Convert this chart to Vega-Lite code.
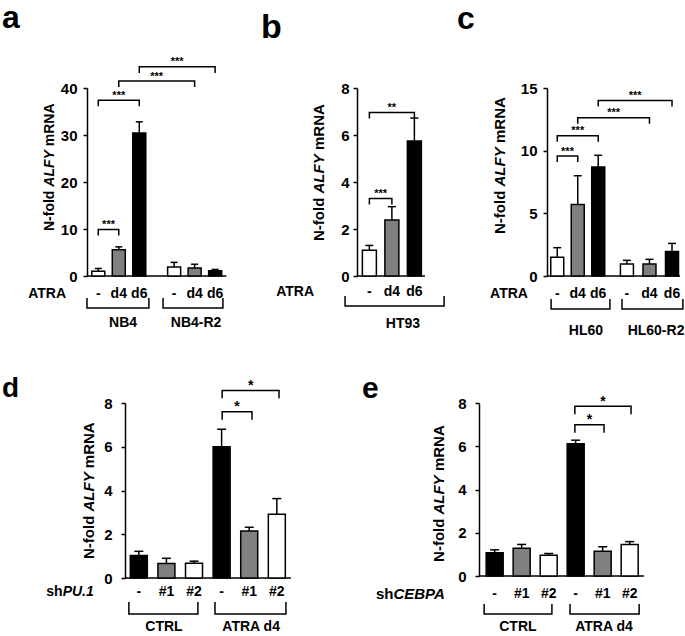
{
"$schema": "https://vega.github.io/schema/vega-lite/v6.json",
"padding": {"left": 1, "top": 1, "right": 0, "bottom": 0},
"config": {
  "view": {"stroke": null},
  "font": "Liberation Sans",
  "mark": {"color": "black"},
  "scale": {"continuousPadding": 0},
  "axis": {"domainColor": "black", "domainWidth": 1.5, "tickColor": "black", "tickWidth": 1.5, "tickSize": 4, "labelFont": "Liberation Sans", "labelFontSize": 15, "labelFontWeight": "bold", "labelColor": "black", "grid": false}
},
"datasets": {
"a": [
{"k":"base","x":0,"x2":6.8,"y":0},
{"k":"bar","x":0.55,"y":1.0,"hi":1.6,"t":"-"},
{"k":"bar","x":1.55,"y":5.6,"hi":6.2,"t":"d4"},
{"k":"bar","x":2.55,"y":30.4,"hi":32.8,"t":"d6"},
{"k":"bar","x":4.25,"y":1.9,"hi":2.9,"t":"-"},
{"k":"bar","x":5.25,"y":1.7,"hi":2.5,"t":"d4"},
{"k":"bar","x":6.25,"y":1.1,"hi":1.4,"t":"d6"},
{"k":"ln","id":"s1","o":1,"x":0.55,"y":8.6},{"k":"ln","id":"s1","o":2,"x":0.55,"y":9.9},{"k":"ln","id":"s1","o":3,"x":1.55,"y":9.9},{"k":"ln","id":"s1","o":4,"x":1.55,"y":8.6},
{"k":"ln","id":"s2","o":1,"x":0.55,"y":36.1},{"k":"ln","id":"s2","o":2,"x":0.55,"y":37.4},{"k":"ln","id":"s2","o":3,"x":2.55,"y":37.4},{"k":"ln","id":"s2","o":4,"x":2.55,"y":36.1},
{"k":"ln","id":"s3","o":1,"x":1.55,"y":40.2},{"k":"ln","id":"s3","o":2,"x":1.55,"y":41.5},{"k":"ln","id":"s3","o":3,"x":5.25,"y":41.5},{"k":"ln","id":"s3","o":4,"x":5.25,"y":40.2},
{"k":"ln","id":"s4","o":1,"x":2.55,"y":43.2},{"k":"ln","id":"s4","o":2,"x":2.55,"y":44.5},{"k":"ln","id":"s4","o":3,"x":6.25,"y":44.5},{"k":"ln","id":"s4","o":4,"x":6.25,"y":43.2},
{"k":"ln","id":"g1","o":1,"x":0,"y":-4.68},{"k":"ln","id":"g1","o":2,"x":0,"y":-6.81},{"k":"ln","id":"g1","o":3,"x":3.02,"y":-6.81},{"k":"ln","id":"g1","o":4,"x":3.02,"y":-4.68},
{"k":"ln","id":"g2","o":1,"x":3.71,"y":-4.68},{"k":"ln","id":"g2","o":2,"x":3.71,"y":-6.81},{"k":"ln","id":"g2","o":3,"x":6.63,"y":-6.81},{"k":"ln","id":"g2","o":4,"x":6.63,"y":-4.68},
{"k":"star","x":1.05,"y":10.2,"s":"***"},
{"k":"star","x":1.55,"y":37.7,"s":"***"},
{"k":"star","x":3.4,"y":41.8,"s":"***"},
{"k":"star","x":4.4,"y":44.8,"s":"***"},
{"k":"lab","x":0.55,"y":-3.75,"s":"-"},
{"k":"lab","x":1.55,"y":-3.75,"s":"d4"},
{"k":"lab","x":2.55,"y":-3.75,"s":"d6"},
{"k":"lab","x":4.25,"y":-3.75,"s":"-"},
{"k":"lab","x":5.25,"y":-3.75,"s":"d4"},
{"k":"lab","x":6.25,"y":-3.75,"s":"d6"},
{"k":"lab","x":1.76,"y":-10,"s":"NB4"},
{"k":"lab","x":5.32,"y":-10,"s":"NB4-R2"},
{"k":"rlab","x":-1.02,"y":-3.75,"s":"ATRA"},
{"k":"letter","x":-4.15,"y":52.77,"s":"a"},
{"k":"t1","x":-1.61,"y":9.57,"s":"N-fold"},
{"k":"t2","x":-1.61,"y":19.0,"s":"ALFY"},
{"k":"t1","x":-1.61,"y":27.62,"s":"mRNA"}
],
"b": [
{"k":"base","x":0,"x2":3.02,"y":0},
{"k":"bar","x":0.55,"y":1.1,"hi":1.3,"t":"-"},
{"k":"bar","x":1.55,"y":2.38,"hi":2.95,"t":"d4"},
{"k":"bar","x":2.55,"y":5.74,"hi":6.72,"t":"d6"},
{"k":"ln","id":"s1","o":1,"x":0.55,"y":3.04},{"k":"ln","id":"s1","o":2,"x":0.55,"y":3.3},{"k":"ln","id":"s1","o":3,"x":1.55,"y":3.3},{"k":"ln","id":"s1","o":4,"x":1.55,"y":3.04},
{"k":"ln","id":"s2","o":1,"x":0.55,"y":6.7},{"k":"ln","id":"s2","o":2,"x":0.55,"y":6.96},{"k":"ln","id":"s2","o":3,"x":2.55,"y":6.96},{"k":"ln","id":"s2","o":4,"x":2.55,"y":6.7},
{"k":"ln","id":"g1","o":1,"x":-0.53,"y":-0.85},{"k":"ln","id":"g1","o":2,"x":-0.53,"y":-1.28},{"k":"ln","id":"g1","o":3,"x":3.87,"y":-1.28},{"k":"ln","id":"g1","o":4,"x":3.87,"y":-0.85},
{"k":"star","x":1.05,"y":3.36,"s":"***"},
{"k":"star","x":1.55,"y":7.02,"s":"**"},
{"k":"lab","x":0.55,"y":-0.68,"s":"-"},
{"k":"lab","x":1.55,"y":-0.68,"s":"d4"},
{"k":"lab","x":2.55,"y":-0.68,"s":"d6"},
{"k":"lab","x":2.04,"y":-2.04,"s":"HT93"},
{"k":"rlab","x":-1.91,"y":-0.68,"s":"ATRA"},
{"k":"letter","x":-4.27,"y":10.13,"s":"b"},
{"k":"t1","x":-1.47,"y":1.49,"s":"N-fold"},
{"k":"t2","x":-1.47,"y":3.51,"s":"ALFY"},
{"k":"t1","x":-1.47,"y":5.36,"s":"mRNA"}
],
"c": [
{"k":"base","x":0,"x2":6.49,"y":0},
{"k":"bar","x":0.5,"y":1.5,"hi":2.26,"t":"-"},
{"k":"bar","x":1.5,"y":5.7,"hi":8.0,"t":"d4"},
{"k":"bar","x":2.5,"y":8.7,"hi":9.63,"t":"d6"},
{"k":"bar","x":3.9,"y":0.95,"hi":1.25,"t":"-"},
{"k":"bar","x":5.0,"y":0.95,"hi":1.33,"t":"d4"},
{"k":"bar","x":6.1,"y":1.95,"hi":2.6,"t":"d6"},
{"k":"ln","id":"s1","o":1,"x":0.5,"y":9.1},{"k":"ln","id":"s1","o":2,"x":0.5,"y":9.57},{"k":"ln","id":"s1","o":3,"x":1.5,"y":9.57},{"k":"ln","id":"s1","o":4,"x":1.5,"y":9.1},
{"k":"ln","id":"s2","o":1,"x":0.5,"y":10.72},{"k":"ln","id":"s2","o":2,"x":0.5,"y":11.2},{"k":"ln","id":"s2","o":3,"x":2.5,"y":11.2},{"k":"ln","id":"s2","o":4,"x":2.5,"y":10.72},
{"k":"ln","id":"s3","o":1,"x":1.5,"y":12.15},{"k":"ln","id":"s3","o":2,"x":1.5,"y":12.63},{"k":"ln","id":"s3","o":3,"x":5.0,"y":12.63},{"k":"ln","id":"s3","o":4,"x":5.0,"y":12.15},
{"k":"ln","id":"s4","o":1,"x":2.5,"y":13.52},{"k":"ln","id":"s4","o":2,"x":2.5,"y":14.0},{"k":"ln","id":"s4","o":3,"x":6.1,"y":14.0},{"k":"ln","id":"s4","o":4,"x":6.1,"y":13.52},
{"k":"ln","id":"g1","o":1,"x":0.2,"y":-1.84},{"k":"ln","id":"g1","o":2,"x":0.2,"y":-2.63},{"k":"ln","id":"g1","o":3,"x":3.07,"y":-2.63},{"k":"ln","id":"g1","o":4,"x":3.07,"y":-1.84},
{"k":"ln","id":"g2","o":1,"x":3.66,"y":-1.84},{"k":"ln","id":"g2","o":2,"x":3.66,"y":-2.63},{"k":"ln","id":"g2","o":3,"x":6.63,"y":-2.63},{"k":"ln","id":"g2","o":4,"x":6.63,"y":-1.84},
{"k":"star","x":1.0,"y":9.69,"s":"***"},
{"k":"star","x":1.5,"y":11.32,"s":"***"},
{"k":"star","x":3.25,"y":12.75,"s":"***"},
{"k":"star","x":4.3,"y":14.12,"s":"***"},
{"k":"lab","x":0.5,"y":-1.44,"s":"-"},
{"k":"lab","x":1.5,"y":-1.44,"s":"d4"},
{"k":"lab","x":2.5,"y":-1.44,"s":"d6"},
{"k":"lab","x":3.9,"y":-1.44,"s":"-"},
{"k":"lab","x":5.0,"y":-1.44,"s":"d4"},
{"k":"lab","x":6.1,"y":-1.44,"s":"d6"},
{"k":"lab","x":1.9,"y":-4.39,"s":"HL60"},
{"k":"lab","x":5.32,"y":-4.39,"s":"HL60-R2"},
{"k":"rlab","x":-0.93,"y":-1.44,"s":"ATRA"},
{"k":"letter","x":-4.39,"y":19.71,"s":"c"},
{"k":"t1","x":-2.05,"y":3.35,"s":"N-fold"},
{"k":"t2","x":-2.05,"y":7.14,"s":"ALFY"},
{"k":"t1","x":-2.05,"y":10.61,"s":"mRNA"}
],
"d": [
{"k":"base","x":0,"x2":6.01,"y":0},
{"k":"bar","x":0.5,"y":1.03,"hi":1.22,"t":"-"},
{"k":"bar","x":1.5,"y":0.66,"hi":0.9,"t":"#1"},
{"k":"bar","x":2.5,"y":0.68,"hi":0.77,"t":"#2"},
{"k":"bar","x":3.5,"y":6.0,"hi":6.8,"t":"-"},
{"k":"bar","x":4.5,"y":2.15,"hi":2.32,"t":"#1"},
{"k":"bar","x":5.5,"y":2.92,"hi":3.63,"t":"#2"},
{"k":"ln","id":"s1","o":1,"x":3.52,"y":7.24},{"k":"ln","id":"s1","o":2,"x":3.52,"y":7.6},{"k":"ln","id":"s1","o":3,"x":4.6,"y":7.6},{"k":"ln","id":"s1","o":4,"x":4.6,"y":7.24},
{"k":"ln","id":"s2","o":1,"x":3.52,"y":8.22},{"k":"ln","id":"s2","o":2,"x":3.52,"y":8.57},{"k":"ln","id":"s2","o":3,"x":5.58,"y":8.57},{"k":"ln","id":"s2","o":4,"x":5.58,"y":8.22},
{"k":"ln","id":"g1","o":1,"x":0.14,"y":-1.1},{"k":"ln","id":"g1","o":2,"x":0.14,"y":-1.65},{"k":"ln","id":"g1","o":3,"x":2.64,"y":-1.65},{"k":"ln","id":"g1","o":4,"x":2.64,"y":-1.1},
{"k":"ln","id":"g2","o":1,"x":3.26,"y":-1.1},{"k":"ln","id":"g2","o":2,"x":3.26,"y":-1.65},{"k":"ln","id":"g2","o":3,"x":5.83,"y":-1.65},{"k":"ln","id":"g2","o":4,"x":5.83,"y":-1.1},
{"k":"star","x":4.06,"y":7.62,"s":"*"},
{"k":"star","x":4.55,"y":8.59,"s":"*"},
{"k":"lab","x":0.5,"y":-0.64,"s":"-"},
{"k":"lab","x":1.5,"y":-0.64,"s":"#1"},
{"k":"lab","x":2.5,"y":-0.64,"s":"#2"},
{"k":"lab","x":3.5,"y":-0.64,"s":"-"},
{"k":"lab","x":4.5,"y":-0.64,"s":"#1"},
{"k":"lab","x":5.5,"y":-0.64,"s":"#2"},
{"k":"lab","x":1.41,"y":-2.24,"s":"CTRL"},
{"k":"lab","x":4.57,"y":-2.24,"s":"ATRA d4"},
{"k":"rlab","x":-2.26,"y":-0.64,"s":"sh"},
{"k":"ilab","x":-2.26,"y":-0.64,"s":"PU.1"},
{"k":"letter","x":-4.46,"y":8.27,"s":"d"},
{"k":"t1","x":-1.12,"y":0.87,"s":"N-fold"},
{"k":"t2","x":-1.12,"y":3.04,"s":"ALFY"},
{"k":"t1","x":-1.12,"y":5.02,"s":"mRNA"}
],
"e": [
{"k":"base","x":0,"x2":6.11,"y":0},
{"k":"bar","x":0.58,"y":1.08,"hi":1.21,"t":"-"},
{"k":"bar","x":1.58,"y":1.28,"hi":1.46,"t":"#1"},
{"k":"bar","x":2.58,"y":0.96,"hi":1.04,"t":"#2"},
{"k":"bar","x":3.58,"y":6.12,"hi":6.28,"t":"-"},
{"k":"bar","x":4.58,"y":1.15,"hi":1.35,"t":"#1"},
{"k":"bar","x":5.58,"y":1.46,"hi":1.59,"t":"#2"},
{"k":"ln","id":"s1","o":1,"x":3.55,"y":6.62},{"k":"ln","id":"s1","o":2,"x":3.55,"y":6.99},{"k":"ln","id":"s1","o":3,"x":4.63,"y":6.99},{"k":"ln","id":"s1","o":4,"x":4.63,"y":6.62},
{"k":"ln","id":"s2","o":1,"x":3.55,"y":7.48},{"k":"ln","id":"s2","o":2,"x":3.55,"y":7.85},{"k":"ln","id":"s2","o":3,"x":5.63,"y":7.85},{"k":"ln","id":"s2","o":4,"x":5.63,"y":7.48},
{"k":"ln","id":"g1","o":1,"x":0.19,"y":-1.29},{"k":"ln","id":"g1","o":2,"x":0.19,"y":-1.76},{"k":"ln","id":"g1","o":3,"x":2.7,"y":-1.76},{"k":"ln","id":"g1","o":4,"x":2.7,"y":-1.29},
{"k":"ln","id":"g2","o":1,"x":3.37,"y":-1.29},{"k":"ln","id":"g2","o":2,"x":3.37,"y":-1.76},{"k":"ln","id":"g2","o":3,"x":5.93,"y":-1.76},{"k":"ln","id":"g2","o":4,"x":5.93,"y":-1.29},
{"k":"star","x":4.09,"y":7.01,"s":"*"},
{"k":"star","x":4.59,"y":7.87,"s":"*"},
{"k":"lab","x":0.58,"y":-0.83,"s":"-"},
{"k":"lab","x":1.58,"y":-0.83,"s":"#1"},
{"k":"lab","x":2.58,"y":-0.83,"s":"#2"},
{"k":"lab","x":3.58,"y":-0.83,"s":"-"},
{"k":"lab","x":4.58,"y":-0.83,"s":"#1"},
{"k":"lab","x":5.58,"y":-0.83,"s":"#2"},
{"k":"lab","x":1.44,"y":-2.36,"s":"CTRL"},
{"k":"lab","x":4.63,"y":-2.36,"s":"ATRA d4"},
{"k":"rlab","x":-3.17,"y":-0.83,"s":"sh"},
{"k":"ilab","x":-3.17,"y":-0.83,"s":"CEBPA"},
{"k":"letter","x":-4.33,"y":8.23,"s":"e"},
{"k":"t1","x":-1.3,"y":0.65,"s":"N-fold"},
{"k":"t2","x":-1.3,"y":2.84,"s":"ALFY"},
{"k":"t1","x":-1.3,"y":4.85,"s":"mRNA"}
]
},
"vconcat": [
{
"hconcat": [
{
"width": 164, "height": 188,
"data": {"name": "a"},
"encoding": {
  "x": {"field": "x", "type": "quantitative", "scale": {"domain": [0, 8], "padding": 0}, "axis": null},
  "y": {"field": "y", "type": "quantitative", "scale": {"domain": [0, 40], "padding": 0}, "axis": {"values": [0, 10, 20, 30, 40], "labelPadding": 6}, "title": null}
},
"layer": [
  {"transform": [{"filter": "datum.k==='base'"}], "mark": {"type": "rule", "strokeWidth": 1.5}, "encoding": {"x2": {"field": "x2"}}},
  {"transform": [{"filter": "datum.k==='bar'"}], "mark": {"type": "bar", "size": 13, "stroke": "black", "strokeWidth": 1.5}, "encoding": {"y2": {"datum": 0}, "fill": {"field": "t", "type": "nominal", "scale": {"domain": ["-", "d4", "d6"], "range": ["white", "#808080", "black"]}, "legend": null}}},
  {"transform": [{"filter": "datum.k==='bar'"}], "mark": {"type": "rule", "strokeWidth": 1.5}, "encoding": {"y2": {"field": "hi"}}},
  {"transform": [{"filter": "datum.k==='bar'"}], "mark": {"type": "tick", "orient": "horizontal", "size": 7, "thickness": 1.5, "opacity": 1}, "encoding": {"y": {"field": "hi", "type": "quantitative", "scale": {"domain": [0, 40], "padding": 0}, "axis": {"values": [0, 10, 20, 30, 40], "labelPadding": 6}, "title": null}}},
  {"transform": [{"filter": "datum.k==='ln'"}], "mark": {"type": "line", "strokeWidth": 1.5}, "encoding": {"detail": {"field": "id"}, "order": {"field": "o"}}},
  {"transform": [{"filter": "datum.k==='star'"}], "mark": {"type": "text", "fontSize": 11, "fontWeight": "bold", "baseline": "alphabetic"}, "encoding": {"text": {"field": "s"}}},
  {"transform": [{"filter": "datum.k==='lab'"}], "mark": {"type": "text", "fontSize": 14, "fontWeight": "bold", "baseline": "middle"}, "encoding": {"text": {"field": "s"}}},
  {"transform": [{"filter": "datum.k==='rlab'"}], "mark": {"type": "text", "fontSize": 14, "fontWeight": "bold", "baseline": "middle", "align": "right"}, "encoding": {"text": {"field": "s"}}},
  {"transform": [{"filter": "datum.k==='letter'"}], "mark": {"type": "text", "fontSize": 32, "fontWeight": "bold", "baseline": "alphabetic", "align": "left"}, "encoding": {"text": {"field": "s"}}},
  {"transform": [{"filter": "datum.k==='t1'"}], "mark": {"type": "text", "fontSize": 14, "fontWeight": "bold", "baseline": "alphabetic", "align": "left", "angle": 270}, "encoding": {"text": {"field": "s"}}},
  {"transform": [{"filter": "datum.k==='t2'"}], "mark": {"type": "text", "fontSize": 14, "fontWeight": "bold", "fontStyle": "italic", "baseline": "alphabetic", "align": "left", "angle": 270}, "encoding": {"text": {"field": "s"}}}
]
},
{
"width": 90, "height": 188,
"data": {"name": "b"},
"encoding": {
  "x": {"field": "x", "type": "quantitative", "scale": {"domain": [0, 4], "padding": 0}, "axis": null},
  "y": {"field": "y", "type": "quantitative", "scale": {"domain": [0, 8], "padding": 0}, "axis": {"values": [0, 2, 4, 6, 8], "labelPadding": 4}, "title": null}
},
"layer": [
  {"transform": [{"filter": "datum.k==='base'"}], "mark": {"type": "rule", "strokeWidth": 1.5}, "encoding": {"x2": {"field": "x2"}}},
  {"transform": [{"filter": "datum.k==='bar'"}], "mark": {"type": "bar", "size": 14, "stroke": "black", "strokeWidth": 1.5}, "encoding": {"y2": {"datum": 0}, "fill": {"field": "t", "type": "nominal", "scale": {"domain": ["-", "d4", "d6"], "range": ["white", "#808080", "black"]}, "legend": null}}},
  {"transform": [{"filter": "datum.k==='bar'"}], "mark": {"type": "rule", "strokeWidth": 1.5}, "encoding": {"y2": {"field": "hi"}}},
  {"transform": [{"filter": "datum.k==='bar'"}], "mark": {"type": "tick", "orient": "horizontal", "size": 8, "thickness": 1.5, "opacity": 1}, "encoding": {"y": {"field": "hi", "type": "quantitative", "scale": {"domain": [0, 8], "padding": 0}, "axis": {"values": [0, 2, 4, 6, 8], "labelPadding": 4}, "title": null}}},
  {"transform": [{"filter": "datum.k==='ln'"}], "mark": {"type": "line", "strokeWidth": 1.5}, "encoding": {"detail": {"field": "id"}, "order": {"field": "o"}}},
  {"transform": [{"filter": "datum.k==='star'"}], "mark": {"type": "text", "fontSize": 11, "fontWeight": "bold", "baseline": "alphabetic"}, "encoding": {"text": {"field": "s"}}},
  {"transform": [{"filter": "datum.k==='lab'"}], "mark": {"type": "text", "fontSize": 14, "fontWeight": "bold", "baseline": "middle"}, "encoding": {"text": {"field": "s"}}},
  {"transform": [{"filter": "datum.k==='rlab'"}], "mark": {"type": "text", "fontSize": 14, "fontWeight": "bold", "baseline": "middle", "align": "right"}, "encoding": {"text": {"field": "s"}}},
  {"transform": [{"filter": "datum.k==='letter'"}], "mark": {"type": "text", "fontSize": 34, "fontWeight": "bold", "baseline": "alphabetic", "align": "left"}, "encoding": {"text": {"field": "s"}}},
  {"transform": [{"filter": "datum.k==='t1'"}], "mark": {"type": "text", "fontSize": 15, "fontWeight": "bold", "baseline": "alphabetic", "align": "left", "angle": 270}, "encoding": {"text": {"field": "s"}}},
  {"transform": [{"filter": "datum.k==='t2'"}], "mark": {"type": "text", "fontSize": 15, "fontWeight": "bold", "fontStyle": "italic", "baseline": "alphabetic", "align": "left", "angle": 270}, "encoding": {"text": {"field": "s"}}}
]
},
{
"width": 133, "height": 188,
"data": {"name": "c"},
"encoding": {
  "x": {"field": "x", "type": "quantitative", "scale": {"domain": [0, 6.49], "padding": 0}, "axis": null},
  "y": {"field": "y", "type": "quantitative", "scale": {"domain": [0, 15], "padding": 0}, "axis": {"values": [0, 5, 10, 15], "labelPadding": 6}, "title": null}
},
"layer": [
  {"transform": [{"filter": "datum.k==='base'"}], "mark": {"type": "rule", "strokeWidth": 1.5}, "encoding": {"x2": {"field": "x2"}}},
  {"transform": [{"filter": "datum.k==='bar'"}], "mark": {"type": "bar", "size": 13, "stroke": "black", "strokeWidth": 1.5}, "encoding": {"y2": {"datum": 0}, "fill": {"field": "t", "type": "nominal", "scale": {"domain": ["-", "d4", "d6"], "range": ["white", "#808080", "black"]}, "legend": null}}},
  {"transform": [{"filter": "datum.k==='bar'"}], "mark": {"type": "rule", "strokeWidth": 1.5}, "encoding": {"y2": {"field": "hi"}}},
  {"transform": [{"filter": "datum.k==='bar'"}], "mark": {"type": "tick", "orient": "horizontal", "size": 8, "thickness": 1.5, "opacity": 1}, "encoding": {"y": {"field": "hi", "type": "quantitative", "scale": {"domain": [0, 15], "padding": 0}, "axis": {"values": [0, 5, 10, 15], "labelPadding": 6}, "title": null}}},
  {"transform": [{"filter": "datum.k==='ln'"}], "mark": {"type": "line", "strokeWidth": 1.5}, "encoding": {"detail": {"field": "id"}, "order": {"field": "o"}}},
  {"transform": [{"filter": "datum.k==='star'"}], "mark": {"type": "text", "fontSize": 11, "fontWeight": "bold", "baseline": "alphabetic"}, "encoding": {"text": {"field": "s"}}},
  {"transform": [{"filter": "datum.k==='lab'"}], "mark": {"type": "text", "fontSize": 14, "fontWeight": "bold", "baseline": "middle"}, "encoding": {"text": {"field": "s"}}},
  {"transform": [{"filter": "datum.k==='rlab'"}], "mark": {"type": "text", "fontSize": 14, "fontWeight": "bold", "baseline": "middle", "align": "right"}, "encoding": {"text": {"field": "s"}}},
  {"transform": [{"filter": "datum.k==='letter'"}], "mark": {"type": "text", "fontSize": 32, "fontWeight": "bold", "baseline": "alphabetic", "align": "left"}, "encoding": {"text": {"field": "s"}}},
  {"transform": [{"filter": "datum.k==='t1'"}], "mark": {"type": "text", "fontSize": 15, "fontWeight": "bold", "baseline": "alphabetic", "align": "left", "angle": 270}, "encoding": {"text": {"field": "s"}}},
  {"transform": [{"filter": "datum.k==='t2'"}], "mark": {"type": "text", "fontSize": 15, "fontWeight": "bold", "fontStyle": "italic", "baseline": "alphabetic", "align": "left", "angle": 270}, "encoding": {"text": {"field": "s"}}}
]
}
],
"spacing": 9,
"resolve": {"scale": {"fill": "independent"}}
},
{
"hconcat": [
{
"width": 266, "height": 175,
"data": {"name": "d"},
"encoding": {
  "x": {"field": "x", "type": "quantitative", "scale": {"domain": [-1.377, 8.26], "padding": 0}, "axis": null},
  "y": {"field": "y", "type": "quantitative", "scale": {"domain": [0, 8], "padding": 0}, "axis": {"values": [0, 2, 4, 6, 8], "labelPadding": 9, "offset": -38}, "title": null}
},
"layer": [
  {"transform": [{"filter": "datum.k==='base'"}], "mark": {"type": "rule", "strokeWidth": 1.5}, "encoding": {"x2": {"field": "x2"}}},
  {"transform": [{"filter": "datum.k==='bar'"}], "mark": {"type": "bar", "size": 17, "stroke": "black", "strokeWidth": 1.5}, "encoding": {"y2": {"datum": 0}, "fill": {"field": "t", "type": "nominal", "scale": {"domain": ["-", "#1", "#2"], "range": ["black", "#808080", "white"]}, "legend": null}}},
  {"transform": [{"filter": "datum.k==='bar'"}], "mark": {"type": "rule", "strokeWidth": 1.5}, "encoding": {"y2": {"field": "hi"}}},
  {"transform": [{"filter": "datum.k==='bar'"}], "mark": {"type": "tick", "orient": "horizontal", "size": 9, "thickness": 1.5, "opacity": 1}, "encoding": {"y": {"field": "hi", "type": "quantitative", "scale": {"domain": [0, 8], "padding": 0}, "axis": {"values": [0, 2, 4, 6, 8], "labelPadding": 9, "offset": -38}, "title": null}}},
  {"transform": [{"filter": "datum.k==='ln'"}], "mark": {"type": "line", "strokeWidth": 1.5}, "encoding": {"detail": {"field": "id"}, "order": {"field": "o"}}},
  {"transform": [{"filter": "datum.k==='star'"}], "mark": {"type": "text", "fontSize": 14, "fontWeight": "bold", "baseline": "alphabetic"}, "encoding": {"text": {"field": "s"}}},
  {"transform": [{"filter": "datum.k==='lab'"}], "mark": {"type": "text", "fontSize": 14, "fontWeight": "bold", "baseline": "middle"}, "encoding": {"text": {"field": "s"}}},
  {"transform": [{"filter": "datum.k==='rlab'"}], "mark": {"type": "text", "fontSize": 14, "fontWeight": "bold", "baseline": "middle", "align": "right"}, "encoding": {"text": {"field": "s"}}},
  {"transform": [{"filter": "datum.k==='ilab'"}], "mark": {"type": "text", "fontSize": 14, "fontWeight": "bold", "fontStyle": "italic", "baseline": "middle", "align": "left"}, "encoding": {"text": {"field": "s"}}},
  {"transform": [{"filter": "datum.k==='letter'"}], "mark": {"type": "text", "fontSize": 28, "fontWeight": "bold", "baseline": "alphabetic", "align": "left"}, "encoding": {"text": {"field": "s"}}},
  {"transform": [{"filter": "datum.k==='t1'"}], "mark": {"type": "text", "fontSize": 15, "fontWeight": "bold", "baseline": "alphabetic", "align": "left", "angle": 270}, "encoding": {"text": {"field": "s"}}},
  {"transform": [{"filter": "datum.k==='t2'"}], "mark": {"type": "text", "fontSize": 15, "fontWeight": "bold", "fontStyle": "italic", "baseline": "alphabetic", "align": "left", "angle": 270}, "encoding": {"text": {"field": "s"}}}
]
},
{
"width": 165, "height": 173,
"data": {"name": "e"},
"encoding": {
  "x": {"field": "x", "type": "quantitative", "scale": {"domain": [0, 6.11], "padding": 0}, "axis": null},
  "y": {"field": "y", "type": "quantitative", "scale": {"domain": [0, 8], "padding": 0}, "axis": {"values": [0, 2, 4, 6, 8], "labelPadding": 9}, "title": null}
},
"layer": [
  {"transform": [{"filter": "datum.k==='base'"}], "mark": {"type": "rule", "strokeWidth": 1.5}, "encoding": {"x2": {"field": "x2"}}},
  {"transform": [{"filter": "datum.k==='bar'"}], "mark": {"type": "bar", "size": 17, "stroke": "black", "strokeWidth": 1.5}, "encoding": {"y2": {"datum": 0}, "fill": {"field": "t", "type": "nominal", "scale": {"domain": ["-", "#1", "#2"], "range": ["black", "#808080", "white"]}, "legend": null}}},
  {"transform": [{"filter": "datum.k==='bar'"}], "mark": {"type": "rule", "strokeWidth": 1.5}, "encoding": {"y2": {"field": "hi"}}},
  {"transform": [{"filter": "datum.k==='bar'"}], "mark": {"type": "tick", "orient": "horizontal", "size": 9, "thickness": 1.5, "opacity": 1}, "encoding": {"y": {"field": "hi", "type": "quantitative", "scale": {"domain": [0, 8], "padding": 0}, "axis": {"values": [0, 2, 4, 6, 8], "labelPadding": 9}, "title": null}}},
  {"transform": [{"filter": "datum.k==='ln'"}], "mark": {"type": "line", "strokeWidth": 1.5}, "encoding": {"detail": {"field": "id"}, "order": {"field": "o"}}},
  {"transform": [{"filter": "datum.k==='star'"}], "mark": {"type": "text", "fontSize": 14, "fontWeight": "bold", "baseline": "alphabetic"}, "encoding": {"text": {"field": "s"}}},
  {"transform": [{"filter": "datum.k==='lab'"}], "mark": {"type": "text", "fontSize": 14, "fontWeight": "bold", "baseline": "middle"}, "encoding": {"text": {"field": "s"}}},
  {"transform": [{"filter": "datum.k==='rlab'"}], "mark": {"type": "text", "fontSize": 15, "fontWeight": "bold", "baseline": "middle", "align": "right"}, "encoding": {"text": {"field": "s"}}},
  {"transform": [{"filter": "datum.k==='ilab'"}], "mark": {"type": "text", "fontSize": 15, "fontWeight": "bold", "fontStyle": "italic", "baseline": "middle", "align": "left"}, "encoding": {"text": {"field": "s"}}},
  {"transform": [{"filter": "datum.k==='letter'"}], "mark": {"type": "text", "fontSize": 30, "fontWeight": "bold", "baseline": "alphabetic", "align": "left"}, "encoding": {"text": {"field": "s"}}},
  {"transform": [{"filter": "datum.k==='t1'"}], "mark": {"type": "text", "fontSize": 15, "fontWeight": "bold", "baseline": "alphabetic", "align": "left", "angle": 270}, "encoding": {"text": {"field": "s"}}},
  {"transform": [{"filter": "datum.k==='t2'"}], "mark": {"type": "text", "fontSize": 15, "fontWeight": "bold", "fontStyle": "italic", "baseline": "alphabetic", "align": "left", "angle": 270}, "encoding": {"text": {"field": "s"}}}
]
}
],
"spacing": 9,
"resolve": {"scale": {"fill": "independent"}}
}
],
"spacing": 35,
"resolve": {"scale": {"fill": "independent"}}
}
